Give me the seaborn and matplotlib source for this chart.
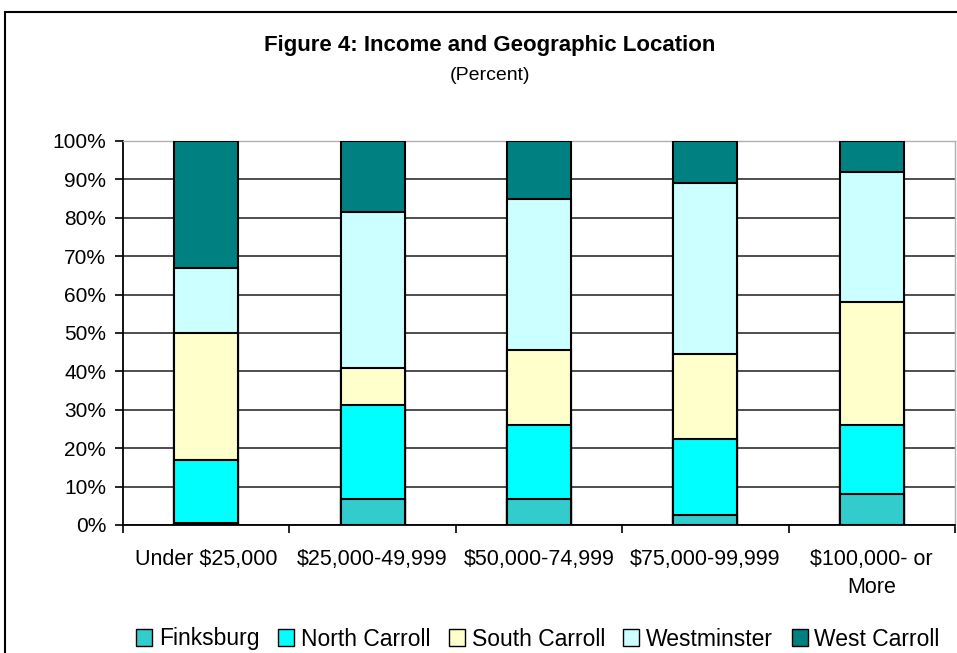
import matplotlib
matplotlib.use("Agg")
import matplotlib.pyplot as plt
import matplotlib.patches as mpatches
import seaborn as sns
import numpy as np
import pandas as pd

# data (percent of each income group)
categories = ["Under $25,000", "$25,000-49,999", "$50,000-74,999",
              "$75,000-99,999", "$100,000- or\nMore"]
finksburg = [0.4, 6.7, 6.7, 2.6, 8.2]
north_carroll = [16.5, 24.5, 19.4, 19.8, 17.8]
south_carroll = [33.2, 9.8, 19.6, 22.2, 32.1]
westminster = [16.9, 40.4, 39.2, 44.4, 33.9]
west_carroll = [33.0, 18.6, 15.1, 11.0, 8.0]

series_names = ["Finksburg", "North Carroll", "South Carroll", "Westminster", "West Carroll"]
series_colors = ["#33CCCC", "#00FFFF", "#FFFFCC", "#CCFFFF", "#008080"]

df = pd.DataFrame({"category": categories,
                   "Finksburg": finksburg,
                   "North Carroll": north_carroll,
                   "South Carroll": south_carroll,
                   "Westminster": westminster,
                   "West Carroll": west_carroll})
# normalise each row to 100% like an Excel 100% stacked column
vals = df[series_names]
vals = vals.div(vals.sum(axis=1), axis=0) * 100
cum = vals.cumsum(axis=1)

sns.set_style("white")
plt.rcParams["font.family"] = ["Liberation Sans", "DejaVu Sans"]
plt.rcParams["text.color"] = "black"
plt.rcParams["xtick.color"] = "black"
plt.rcParams["ytick.color"] = "black"

fig = plt.figure(figsize=(9.57, 6.53), dpi=100)
ax = fig.add_axes([123 / 957, 1 - 525 / 653, (955 - 123) / 957, (525 - 141) / 653])

# horizontal gridlines behind bars
ax.set_axisbelow(True)
ax.yaxis.grid(True, color="#404040", linewidth=1.3)

# draw tallest cumulative first so each segment shows on top
for name, color in reversed(list(zip(series_names, series_colors))):
    sns.barplot(x=df["category"], y=cum[name], color=color, width=0.385,
                edgecolor="black", linewidth=1.5, saturation=1, ax=ax, zorder=3)

ax.set_ylim(0, 100)
ax.set_xlim(-0.5, len(categories) - 0.5)
ax.set_yticks(np.arange(0, 101, 10))
ax.set_yticklabels([f"{v}%" for v in range(0, 101, 10)], fontsize=15)
ax.set_xticks(range(len(categories)))
ax.set_xticklabels(categories, fontsize=15.5, linespacing=1.45)
ax.set_xticks(np.arange(-0.5, len(categories), 1), minor=True)
ax.tick_params(axis="x", which="major", length=0, pad=17)
ax.tick_params(axis="x", which="minor", length=6, width=1.2, color="black", direction="out", bottom=True)
ax.tick_params(axis="y", length=6, width=1.2, color="black", direction="out", left=True, pad=6)
ax.set_xlabel("")
ax.set_ylabel("")

for side in ["left", "bottom"]:
    ax.spines[side].set_color("black")
    ax.spines[side].set_linewidth(1.3)
for side in ["top", "right"]:
    ax.spines[side].set_color("#b0b0b0")
    ax.spines[side].set_linewidth(1.0)

fig.text(490 / 957, 1 - 45 / 653, "Figure 4: Income and Geographic Location",
         ha="center", va="center", fontsize=16, fontweight="bold")
fig.text(490 / 957, 1 - 75 / 653, "(Percent)", ha="center", va="center", fontsize=14)

handles = [mpatches.Patch(facecolor=c, edgecolor="black", linewidth=1.0, label=n)
           for n, c in zip(series_names, series_colors)]
fig.legend(handles=handles, loc="center", bbox_to_anchor=(538 / 957, 1 - 639 / 653),
           ncol=5, frameon=False, fontsize=16.5, handlelength=0.7, handleheight=0.7,
           handletextpad=0.3, columnspacing=0.8, borderaxespad=0)

# outer chart-area frame (cut off at right and bottom like the reference)
frame = mpatches.Rectangle((5 / 957, -0.1), 2.0, 1 - 12 / 653 + 0.1,
                           transform=fig.transFigure, fill=False,
                           edgecolor="black", linewidth=1.5, clip_on=False)
fig.patches.append(frame)

fig.savefig("out.png", dpi=100)
